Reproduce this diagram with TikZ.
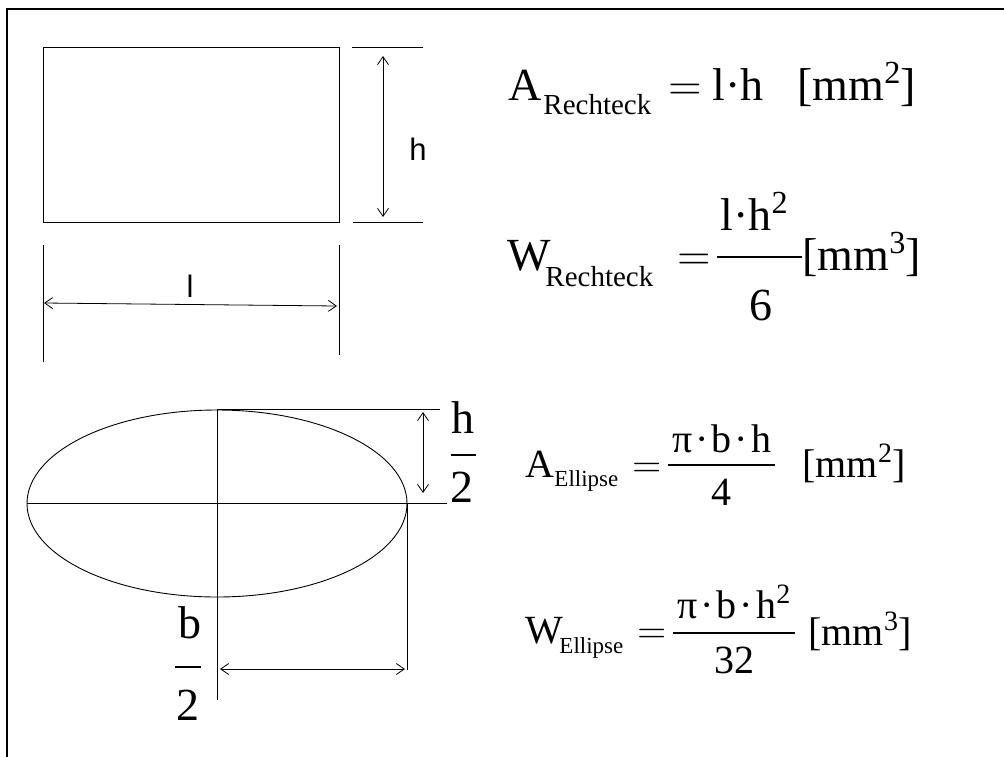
\RequirePackage{fix-cm}
\documentclass[tikz,border=0pt]{standalone}
\usepackage{fontspec}
\setmainfont{Liberation Serif}
\newfontfamily\labelfont{Liberation Sans}
\usetikzlibrary{arrows.meta, shapes.geometric}

\begin{document}
\begin{tikzpicture}[x=1pt, y=-1pt, line width=0.9pt,
    dimarrow/.style={{Straight Barb[length=8pt,width=11pt]}-{Straight Barb[length=8pt,width=11pt]}, line width=0.8pt},
    bigtxt/.style={inner sep=0pt, anchor=base west, font=\fontsize{46}{54}\selectfont},
    bigsubtxt/.style={inner sep=0pt, anchor=base west, font=\fontsize{29}{34}\selectfont},
    midtxt/.style={inner sep=0pt, anchor=base west, font=\fontsize{40}{48}\selectfont},
    midsubtxt/.style={inner sep=0pt, anchor=base west, font=\fontsize{23}{28}\selectfont},
    sanstxt/.style={inner sep=0pt, anchor=base, font=\labelfont\fontsize{31}{36}\selectfont},
    fracbar/.style={line width=1.5pt}]

    \useasboundingbox (0,0) rectangle (1004,756);

    % frame
    \draw[line width=2.6pt] (7,760) -- (7,9) -- (1010,9);

    % rectangle with dimensions
    \node[draw, minimum width=296pt, minimum height=175pt, inner sep=0pt] (rect) at (191,134.5) {};
    \draw (352,47) -- (423,47);
    \draw (353,222) -- (423,222);
    \draw[dimarrow] (383,56) -- (383,217);
    \node[sanstxt] (hlabel) at (418,160) {h};
    \draw (43,245) -- (43,362);
    \draw (339,245) -- (339,355);
    \draw[dimarrow] (44,303) -- (337,306);
    \node[sanstxt] (llabel) at (190,297) {l};

    % ellipse with dimensions
    \node[draw, ellipse, minimum width=380pt, minimum height=187pt, inner sep=0pt] (ell) at (217,503.5) {};
    \draw (27,503) -- (447,503);
    \draw (217,409) -- (217,700);
    \draw (217,409) -- (440,409);
    \draw[dimarrow] (423,412) -- (423,493);
    \draw (407,503) -- (407,670);
    \draw[dimarrow] (220,669) -- (405,669);

    \node[bigtxt, anchor=base] (hnum) at (463,433) {h};
    \draw[fracbar] (451,455) -- (476,455);
    \node[bigtxt, anchor=base] (hden) at (462,502) {2};
    \node[bigtxt, anchor=base] (bnum) at (190,638) {b};
    \draw[fracbar] (175,667) -- (201,667);
    \node[bigtxt, anchor=base] (bden) at (188,720) {2};

    % A Rechteck
    \node[bigtxt] (arect) at (508,100) {A};
    \node[bigsubtxt] (arectsub) at (543,114) {Rechteck};
    \node[bigtxt] (arecteq) at (668,100) {$=$};
    \node[bigtxt] (arectrhs) at (712,100) {l·h};
    \node[bigtxt] (arectunit) at (797,100) {[mm\textsuperscript{2}]};

    % W Rechteck
    \node[bigtxt] (wrect) at (507,270) {W};
    \node[bigsubtxt] (wrectsub) at (545,286) {Rechteck};
    \node[bigtxt] (wrecteq) at (677,270) {$=$};
    \node[bigtxt] (wrectnum) at (720,230) {l·h\textsuperscript{2}};
    \draw[fracbar] (717,257) -- (802,257);
    \node[bigtxt, anchor=base] (wrectden) at (761,320) {6};
    \node[bigtxt] (wrectunit) at (802,270) {[mm\textsuperscript{3}]};

    % A Ellipse
    \node[midtxt] (aell) at (525,477) {A};
    \node[midsubtxt] (aellsub) at (554,486) {Ellipse};
    \node[midtxt] (aelleq) at (632,477) {$=$};
    \node[midtxt] (aellnum) at (672,452) {π\hspace{3pt}·\hspace{3pt}b\hspace{3pt}·\hspace{3pt}h};
    \draw[fracbar] (668,465) -- (775,465);
    \node[midtxt, anchor=base] (aellden) at (721,505) {4};
    \node[midtxt] (aellunit) at (802,477) {[mm\textsuperscript{2}]};

    % W Ellipse
    \node[midtxt] (well) at (525,643) {W};
    \node[midsubtxt] (wellsub) at (559,653) {Ellipse};
    \node[midtxt] (welleq) at (637,643) {$=$};
    \node[midtxt] (wellnum) at (677,618) {π\hspace{3pt}·\hspace{3pt}b\hspace{3pt}·\hspace{3pt}h\textsuperscript{2}};
    \draw[fracbar] (673,633) -- (795,633);
    \node[midtxt, anchor=base] (wellden) at (734,673) {32};
    \node[midtxt] (wellunit) at (808,645) {[mm\textsuperscript{3}]};

\end{tikzpicture}
\end{document}
